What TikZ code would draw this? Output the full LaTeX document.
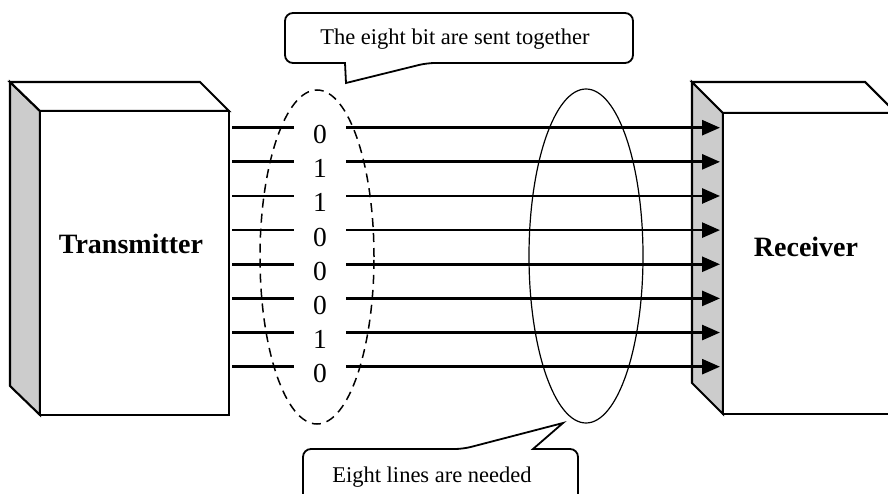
\documentclass[tikz,border=0pt]{standalone}
\usepackage{fontspec}
\setmainfont{Liberation Serif}
\usetikzlibrary{arrows.meta,shapes.geometric}
\begin{document}
\begin{tikzpicture}[x=1pt,y=-1pt,
  face/.style={draw=black, line width=2.1pt, line join=miter, fill=white},
  side/.style={face, fill=black!20},
  wire/.style={line width=2.7pt},
  bit/.style={font=\fontsize{27.5}{27.5}\selectfont, inner sep=0pt, minimum width=52pt},
  title/.style={font=\fontsize{28}{28}\selectfont\bfseries, inner sep=0pt},
  callout/.style={draw, line width=1.8pt, fill=white, line join=miter},
  note/.style={font=\fontsize{22.5}{22.5}\selectfont, inner sep=0pt},
  group/.style={draw, ellipse, inner sep=0pt, minimum width=114pt, minimum height=334pt}]
\useasboundingbox (0,0) rectangle (888,494);

% transmitter block
\draw[side] (10,82) -- (40,111) -- (40,415) -- (10,386) -- cycle;
\draw[face] (10,82) -- (200,82) -- (229,111) -- (40,111) -- cycle;
\draw[face] (40,111) rectangle (229,415);
\node[title, anchor=base] (tx) at (131,254) {Transmitter};

% receiver block
\draw[side] (692,82) -- (723,113) -- (723,414) -- (692,383) -- cycle;
\draw[face] (692,82) -- (865,82) -- (896,113) -- (723,113) -- cycle;
\draw[face] (723,113) rectangle (896,414);
\node[title, anchor=base] (rx) at (806,257) {Receiver};

% grouping ellipses
\node[group, dashed, dash pattern=on 9pt off 6pt, line width=1.5pt] (bits) at (317,257) {};
\node[group, line width=1.2pt] (lines) at (586,256) {};

% the eight parallel lines with their bits
\foreach \b [count=\i] in {0,1,1,0,0,0,1,0} {
  \pgfmathsetmacro\yy{127.7+34.14*(\i-1)}
  \coordinate (s\i) at (232,\yy);
  \coordinate (e\i) at (720,\yy);
  \node[bit, anchor=base] (d\i) at (320,\yy+16) {\b};
  \draw[wire] (s\i) -- (d\i.west |- s\i);
  \draw[wire, -{Triangle[length=18pt,width=15pt]}] (d\i.east |- s\i) -- (e\i);
}

% top callout
\draw[callout] (285,38) [rounded corners=8pt] -- (285,13) -- (633,13) -- (633,63) -- (427,63)
  [sharp corners] -- (346,83) -- (345,63) [rounded corners=8pt] -- (285,63) -- cycle;
\node[note, anchor=base] (top) at (455,45) {The eight bit are sent together};

% bottom callout
\draw[callout] (303,505) [rounded corners=8pt] -- (303,449) -- (463,449)
  [sharp corners] -- (563,423) -- (533,449) [rounded corners=8pt] -- (578,449) -- (578,505);
\node[note, anchor=base] (bottom) at (432,482) {Eight lines are needed};
\end{tikzpicture}
\end{document}
